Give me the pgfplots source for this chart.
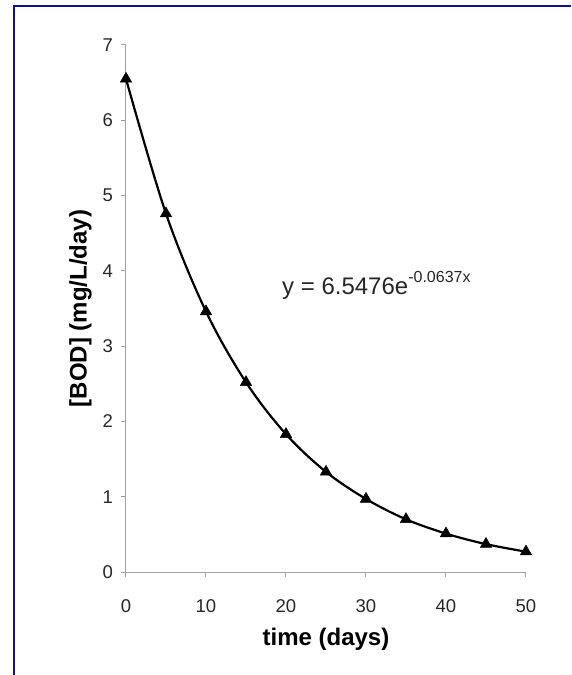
\documentclass[border=0pt]{standalone}
\usepackage{fontspec}
\setmainfont{Liberation Sans}
\usepackage{pgfplots}
\pgfplotsset{compat=1.18}
\definecolor{framecol}{RGB}{16,16,150}
\definecolor{axgray}{RGB}{160,160,160}
\begin{document}
\begin{tikzpicture}
\path[use as bounding box] (-126pt,-103pt) rectangle (445pt,572pt);
\begin{axis}[
  at={(0,0)}, anchor=south west,
  scale only axis,
  width=400pt, height=527pt,
  xmin=0, xmax=50, ymin=0, ymax=7,
  axis x line=bottom, axis y line=left,
  axis line style={-, axgray, line width=1pt},
  tick style={axgray, line width=1pt},
  tick align=outside,
  major tick length=5pt,
  xtick={0,10,20,30,40,50},
  ytick={0,1,2,3,4,5,6,7},
  minor tick num=0,
  /pgf/number format/assume math mode=true,
  ticklabel style={font=\fontsize{18.5}{20}\selectfont, text=black!85},
  xticklabel style={anchor=base, inner sep=0pt, yshift=-35pt},
  yticklabel style={anchor=east, inner sep=0pt, xshift=-8pt},
  xlabel={\textbf{time (days)}},
  ylabel={\textbf{[BOD] (mg/L/day)}},
  label style={font=\fontsize{24}{26}\selectfont},
  xlabel style={at={(axis description cs:0.5,0)}, anchor=base, inner sep=0pt, yshift=-73pt},
  ylabel style={at={(axis description cs:0,0.5)}, anchor=south, inner sep=0pt, yshift=34pt},
  clip=false,
]
\addplot[black, line width=2.2pt, smooth, tension=0.55, mark=triangle*, mark size=6.6pt, mark options={solid, line width=0.5pt}]
coordinates {
(0,6.55) (5,4.76) (10,3.46) (15,2.52) (20,1.83) (25,1.33) (30,0.97) (35,0.70) (40,0.51) (45,0.37) (50,0.27)
};
\node[anchor=base west, inner sep=0pt, font=\fontsize{24}{26}\selectfont, text=black!85] at (axis cs:19.5,3.68) {y = 6.5476e\raisebox{12pt}{\fontsize{16}{17}\selectfont -0.0637x}};
\end{axis}
\draw[framecol, line width=2.2pt] (-112pt,-103pt) -- (-112pt,566pt) -- (445pt,566pt);
\end{tikzpicture}
\end{document}
